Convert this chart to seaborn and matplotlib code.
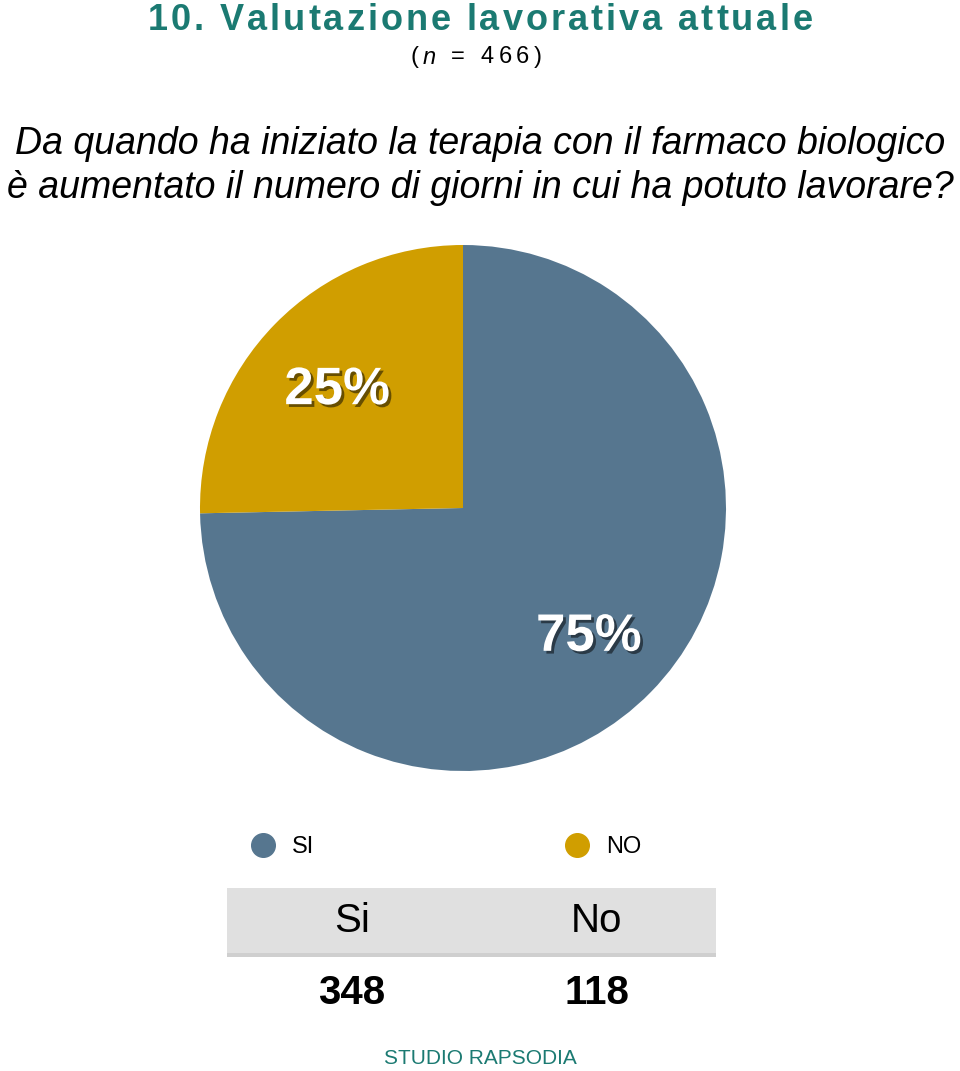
import matplotlib
matplotlib.use("Agg")
import matplotlib.pyplot as plt
import matplotlib.patheffects as pe
from matplotlib.lines import Line2D
from matplotlib.patches import FancyBboxPatch
import seaborn as sns

# data
labels = ['SI', 'NO']
table_labels = ['Si', 'No']
counts = [348, 118]
colors = ['#56768F', '#D09E00']

title = '10. Valutazione lavorativa attuale'
n_text = '(n = 466)'
question = ('Da quando ha iniziato la terapia con il farmaco biologico\n'
            'è aumentato il numero di giorni in cui ha potuto lavorare?')
teal = '#1B7A72'

sns.set_theme(style="white")
plt.rcParams['font.family'] = ['Liberation Sans', 'DejaVu Sans']

W, H = 960, 1071
fig = plt.figure(figsize=(9.6, 10.71), dpi=100)
fig.patch.set_facecolor('white')
renderer = fig.canvas.get_renderer()


def fx(x):
    return x / W


def fy(y):
    return 1 - y / H


def text_width(s, **kw):
    t = fig.text(0, 0, s, **kw)
    w = t.get_window_extent(renderer).width
    t.remove()
    return w


def spaced_text(s, xc, yc, spacing, styles=None, **kw):
    # draw a string char by char with extra letter spacing (pixels)
    styles = styles or {}
    widths = []
    for i, ch in enumerate(s):
        if ch == ' ':
            widths.append(text_width('a b', **kw) - text_width('ab', **kw))
        else:
            widths.append(text_width(ch, **kw, **styles.get(i, {})))
    total = sum(widths) + spacing * (len(s) - 1)
    x = xc - total / 2
    for i, ch in enumerate(s):
        fig.text(fx(x), fy(yc), ch, ha='left', va='center', **kw, **styles.get(i, {}))
        x += widths[i] + spacing


# titles
spaced_text(title, 480, 20, 3.0, fontsize=26, fontweight='bold', color=teal)
spaced_text(n_text, 476, 57, 4.5, styles={1: dict(fontstyle='italic')},
            fontsize=17, color='black')
fig.text(fx(480), fy(166), question, ha='center', va='center', fontsize=27,
         fontstyle='italic', color='black', linespacing=1.25)

# pie
cx, cy, r = 463, 508, 263
ax = fig.add_axes([fx(cx - r), fy(cy + r), 2 * r / W, 2 * r / H])
wedges, texts, autotexts = ax.pie(
    counts, colors=colors, startangle=90, counterclock=False,
    autopct=lambda p: f'{p:.0f}%', pctdistance=0.67,
    wedgeprops=dict(linewidth=0))
for t in autotexts:
    t.set_color('white')
    t.set_fontsize(38)
    t.set_fontweight('bold')
    t.set_va('center_baseline')
    t.set_path_effects([pe.withSimplePatchShadow(offset=(2, -2), shadow_rgbFace='black', alpha=0.5)])
ax.set_xlim(-1, 1)
ax.set_ylim(-1, 1)
ax.set_aspect('auto')
ax.axis('off')

# legend
handles = [Line2D([0], [0], marker='o', color='none', markerfacecolor=c,
                  markeredgecolor=c, markersize=17) for c in colors]
fig.legend(handles, labels, loc='center', bbox_to_anchor=(fx(445), fy(847)),
           ncol=2, frameon=False, fontsize=17, columnspacing=10.5,
           handletextpad=0.65, handlelength=1.2, labelcolor='black')

# table
box = FancyBboxPatch((fx(227), fy(953)), fx(716) - fx(227), fy(888) - fy(953),
                     boxstyle='square,pad=0', transform=fig.transFigure,
                     facecolor='#E0E0E0', edgecolor='none',
                     path_effects=[pe.withSimplePatchShadow(offset=(0, -3), alpha=0.25),
                                   pe.Normal()])
fig.patches.append(box)
col_x = [352, 597]
for x, lab, n in zip(col_x, table_labels, counts):
    fig.text(fx(x), fy(921), lab, ha='center', va='center', fontsize=29, color='black')
    fig.text(fx(x), fy(993), str(n), ha='center', va='center', fontsize=29,
             fontweight='bold', color='black')

fig.text(fx(480), fy(1058), 'STUDIO RAPSODIA', ha='center', va='center',
         fontsize=15, color=teal)

fig.savefig('out.png', dpi=100)
